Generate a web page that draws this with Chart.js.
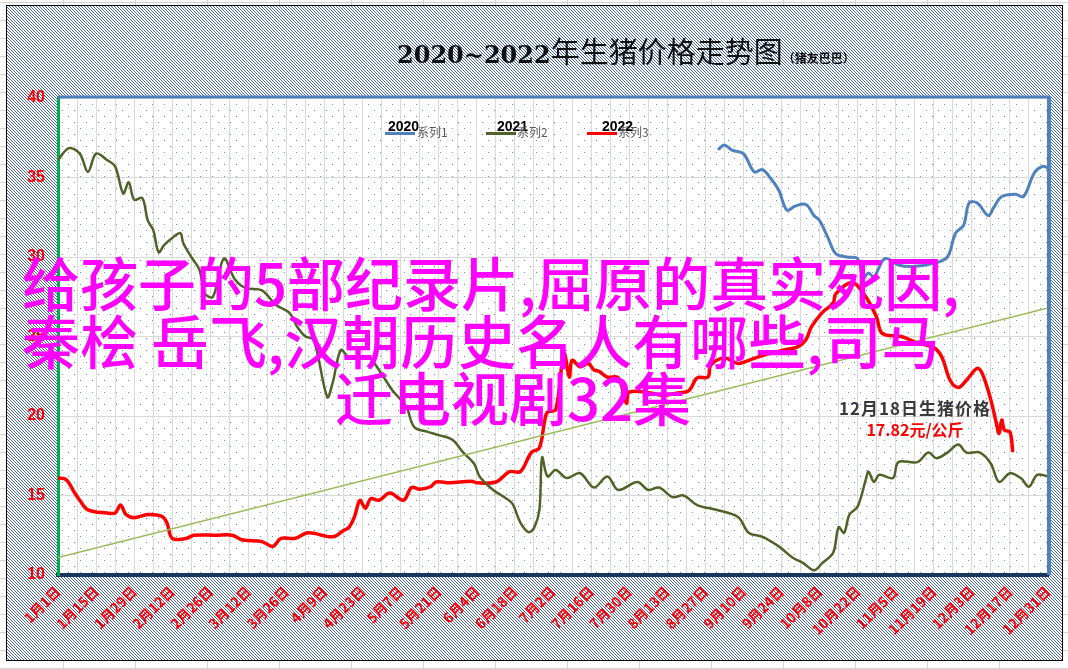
<!DOCTYPE html>
<html>
<head>
<meta charset="utf-8">
<script src="https://cdn.jsdelivr.net/npm/chart.js@4.4.0/dist/chart.umd.min.js"></script>
<style>
  body { margin: 0; width: 1068px; height: 669px; overflow: hidden; background: #fff; }
  #wrap { position: relative; width: 1068px; height: 669px; }
  canvas { position: absolute; left: 0; top: 0; }
  .t { position: absolute; white-space: nowrap; }
  #title { left: 397px; top: 32px; font: 29px "Noto Sans CJK SC"; line-height: 36px; color: #111; }
  #title .num { font: bold 24px "DejaVu Serif"; }
  #title .src { font: bold 12px "Noto Sans CJK SC"; }
  .lg-year { font: bold 14px "Liberation Sans"; line-height: 14px; color: #000; top: 119px; }
  .lg-name { font: 12px "Noto Sans CJK SC"; line-height: 12px; color: #595959; top: 126px; }
  .lg-line { position: absolute; top: 132px; width: 30px; height: 3px; }
  .note { width: 200px; text-align: center; left: 815px; font-weight: bold; font-family: "Noto Sans CJK SC"; }
  .over { font: 500 58px "Noto Sans CJK SC"; line-height: 58px; color: #ff00ff; }
</style>
</head>
<body>
<div id="wrap">
  <canvas id="pigPriceChart" width="1068" height="669"></canvas>

  <div class="t" id="title"><span class="num">2020~2022</span>年生猪价格走势图<span class="src">（猪友巴巴）</span></div>

  <div class="lg-line" style="left:385px;background:#4f81bd"></div>
  <div class="t lg-year" style="left:388px">2020</div>
  <div class="t lg-name" style="left:417px">系列1</div>
  <div class="lg-line" style="left:486px;background:#4f6228"></div>
  <div class="t lg-year" style="left:497px">2021</div>
  <div class="t lg-name" style="left:517px">系列2</div>
  <div class="lg-line" style="left:587px;background:#ff0000"></div>
  <div class="t lg-year" style="left:602px">2022</div>
  <div class="t lg-name" style="left:618px">系列3</div>

  <div class="t note" style="top:399px;font-size:17px;line-height:17px;letter-spacing:1px;color:#3a3a3a">12月18日生猪价格</div>
  <div class="t note" style="top:421px;font-size:16px;line-height:16px;color:#ff0000">17.82元/公斤</div>

  <div class="t over" style="left:22px;top:252px">给孩子的5部纪录片,屈原的真实死因,</div>
  <div class="t over" style="left:22px;top:310px">秦桧 岳飞,汉朝历史名人有哪些,司马</div>
  <div class="t over" style="left:335px;top:367px">迁电视剧32集</div>
</div>

<script>
// x axis labels, one every two weeks
const tickLabels = ['1月1日', '1月15日', '1月29日', '2月12日', '2月26日', '3月12日', '3月26日',
  '4月9日', '4月23日', '5月7日', '5月21日', '6月4日', '6月18日', '7月2日', '7月16日', '7月30日',
  '8月13日', '8月27日', '9月10日', '9月24日', '10月8日', '10月22日', '11月5日', '11月19日',
  '12月3日', '12月17日', '12月31日'];

// 2020 (only autumn part shown)
const days2020 = [243, 245, 248, 252, 256, 259, 262, 265, 268, 271, 275, 278, 280, 283, 286, 290, 294, 296, 298, 300, 304, 309, 314, 322, 327, 330, 333, 335, 338, 342, 344, 347, 352, 355, 359, 362, 364];
const price2020 = [36.8, 37.05, 36.7, 36.5, 35.35, 35.5, 34.95, 34.2, 32.95, 33.2, 33.3, 32.6, 32.3, 31.25, 30.2, 30.0, 29.9, 28.7, 29.0, 28.75, 29.9, 29.5, 29.4, 29.6, 30.0, 31.5, 32.0, 33.4, 33.4, 32.6, 33.1, 33.8, 33.95, 33.8, 35.3, 35.7, 35.6];

// 2021
const days2021 = [0, 4, 8, 11, 14, 18, 21, 24, 26, 28, 31, 33, 35, 37, 39, 42, 45, 46, 49, 52, 54, 57, 61, 65, 69, 75, 80, 85, 88, 91, 94, 99, 101, 104, 107, 114, 118, 123, 128, 131, 136, 140, 145, 149, 153, 155, 160, 164, 167, 170, 173, 175, 177, 178, 180, 183, 187, 192, 197, 202, 206, 213, 217, 221, 226, 230, 235, 242, 250, 254, 259, 265, 270, 274, 278, 281, 285, 287, 289, 291, 294, 297, 298, 300, 302, 307, 309, 316, 320, 323, 327, 331, 334, 339, 343, 346, 350, 354, 357, 360, 364];
const price2021 = [36.1, 36.85, 36.5, 35.35, 36.5, 36.1, 35.7, 34.0, 34.7, 33.6, 33.7, 32.3, 31.7, 30.3, 30.75, 31.2, 31.5, 30.9, 30.0, 29.2, 27.7, 27.5, 29.9, 28.6, 28.05, 27.9, 27.0, 26.5, 25.6, 25.0, 24.8, 21.2, 22.1, 24.15, 23.7, 23.7, 22.9, 21.6, 20.6, 19.3, 19.0, 18.8, 18.5, 17.7, 17.0, 16.2, 15.35, 14.9, 14.5, 13.3, 12.7, 12.95, 14.1, 17.4, 16.2, 16.6, 16.1, 16.4, 15.5, 16.2, 15.35, 15.85, 15.35, 15.5, 14.9, 15.0, 14.4, 14.1, 13.65, 12.65, 12.4, 11.8, 11.1, 10.75, 10.3, 10.75, 11.4, 13.0, 12.65, 13.8, 14.3, 16.0, 16.5, 15.85, 16.3, 16.1, 17.1, 17.1, 17.7, 17.35, 17.7, 18.2, 17.7, 17.7, 17.0, 15.85, 16.4, 16.1, 15.55, 16.3, 16.2];

// 2022 (up to 12月18日)
const days2022 = [0, 3, 6, 8, 11, 18, 21, 23, 25, 28, 33, 38, 40, 42, 47, 50, 58, 64, 68, 75, 79, 82, 87, 92, 101, 105, 107, 109, 111, 113, 115, 118, 122, 127, 130, 133, 137, 139, 144, 152, 154, 161, 166, 170, 174, 177, 179, 180, 183, 186, 188, 189, 192, 195, 197, 199, 202, 206, 209, 210, 218, 222, 228, 232, 235, 239, 240, 245, 250, 254, 259, 267, 272, 275, 277, 281, 285, 286, 292, 297, 301, 303, 310, 316, 322, 325, 328, 331, 334, 338, 340, 343, 345, 346, 347, 348, 350, 351];
const price2022 = [16.1, 16.0, 15.2, 14.7, 14.1, 13.9, 13.9, 14.4, 13.8, 13.6, 13.8, 13.7, 13.3, 12.3, 12.3, 12.5, 12.5, 12.5, 12.2, 12.1, 11.8, 12.3, 12.3, 12.65, 12.4, 12.8, 13.0, 13.65, 14.7, 14.2, 14.8, 14.7, 15.15, 14.7, 15.5, 15.4, 15.55, 15.85, 15.8, 15.9, 15.8, 15.85, 16.5, 16.5, 17.7, 18.0, 19.75, 20.25, 20.4, 23.95, 22.45, 23.5, 23.1, 23.3, 22.9, 22.8, 22.45, 22.4, 20.8, 21.5, 21.45, 21.3, 21.45, 21.6, 22.4, 22.45, 23.2, 23.65, 23.3, 23.5, 23.8, 24.15, 24.35, 24.8, 25.6, 26.5, 27.1, 27.7, 28.4, 27.5, 26.2, 25.2, 25.0, 24.6, 24.3, 23.7, 22.25, 21.8, 22.25, 23.0, 22.6, 21.0, 19.55, 18.9, 19.75, 19.1, 19.0, 17.82];

// linear trend line
const trendDays = [0, 364];
const trendVals = [11.1, 26.8];

function pts(days, vals) {
  return days.map((d, i) => ({ x: d, y: vals[i] }));
}

function makePattern(size, cells, color) {
  const c = document.createElement('canvas');
  c.width = size; c.height = size;
  const g = c.getContext('2d');
  g.fillStyle = '#fff';
  g.fillRect(0, 0, size, size);
  g.fillStyle = color;
  cells.forEach(p => g.fillRect(p[0], p[1], 1, 1));
  return c;
}

const sheetBg = {
  id: 'sheetBg',
  beforeDraw(chart) {
    const c = chart.ctx, a = chart.chartArea;
    const W = chart.width, H = chart.height;
    c.save();
    c.fillStyle = '#fff';
    c.fillRect(0, 0, W, H);
    // excel cell lines
    c.strokeStyle = '#d4d4d4';
    c.lineWidth = 1;
    for (let x = 63.5; x < W; x += 72) { c.beginPath(); c.moveTo(x, 0); c.lineTo(x, H); c.stroke(); }
    for (let y = 2.5; y < H; y += 18) { c.beginPath(); c.moveTo(0, y); c.lineTo(W, y); c.stroke(); }
    // chart box with diagonal hatch
    const hatch = c.createPattern(makePattern(3, [[0, 0], [1, 1], [2, 2]], '#4a68a8'), 'repeat');
    c.fillStyle = hatch;
    c.fillRect(6, 5, 1056, 655);
    c.strokeStyle = '#000';
    c.strokeRect(6.5, 5.5, 1056, 655);
    // plot area with sparse dots
    c.fillStyle = c.createPattern(makePattern(12, [[2, 2], [8, 8]], '#7d8fc0'), 'repeat');
    c.fillRect(a.left, a.top, a.right - a.left, a.bottom - a.top);
    c.restore();
  },
  afterDraw(chart) {
    const c = chart.ctx, a = chart.chartArea;
    c.save();
    c.strokeStyle = '#4f81bd';
    c.lineWidth = 3;
    c.beginPath(); c.moveTo(a.left, a.top - 1); c.lineTo(a.right + 2, a.top - 1); c.stroke();
    c.lineWidth = 4;
    c.beginPath(); c.moveTo(a.right + 1, a.top - 2); c.lineTo(a.right + 1, a.bottom); c.stroke();
    c.restore();
  }
};

const ctx = document.getElementById('pigPriceChart').getContext('2d');

const pigPriceChart = new Chart(ctx, {
  type: 'line',
  data: {
    datasets: [
      { label: '趋势', data: pts(trendDays, trendVals), borderColor: '#9bbb59', borderWidth: 1.5, tension: 0 },
      { label: '系列2', data: pts(days2021, price2021), borderColor: '#4f6228', borderWidth: 2.5 },
      { label: '系列1', data: pts(days2020, price2020), borderColor: '#4f81bd', borderWidth: 3 },
      { label: '系列3', data: pts(days2022, price2022), borderColor: '#ff0000', borderWidth: 3.5 }
    ]
  },
  options: {
    responsive: false,
    animation: false,
    events: [],
    layout: { padding: { left: 0, top: 98, right: 20, bottom: 0 } },
    elements: {
      point: { radius: 0 },
      line: { tension: 0.35, borderCapStyle: 'round', borderJoinStyle: 'round', fill: false }
    },
    scales: {
      x: {
        type: 'linear',
        min: 0,
        max: 364,
        afterFit: s => { s.height = 94; },
        grid: { color: '#d9d9d9', drawTicks: false },
        border: { color: '#17375e', width: 4 },
        ticks: {
          stepSize: 7,
          autoSkip: false,
          minRotation: 45,
          maxRotation: 45,
          padding: 8,
          color: '#ff0000',
          font: { family: 'Noto Sans CJK SC', size: 14, weight: 'bold' },
          callback: v => (v % 14 === 0 ? tickLabels[v / 14] : '')
        }
      },
      y: {
        min: 10,
        max: 40,
        afterFit: s => { s.width = 58; },
        grid: { color: '#d9d9d9', drawTicks: false },
        border: { color: '#00b050', width: 3 },
        ticks: {
          stepSize: 5,
          padding: 13,
          color: '#ff0000',
          font: { family: 'Liberation Sans', size: 16, weight: 'bold' }
        }
      }
    },
    plugins: {
      legend: { display: false },
      tooltip: { enabled: false }
    }
  },
  plugins: [sheetBg]
});
</script>
</body>
</html>
